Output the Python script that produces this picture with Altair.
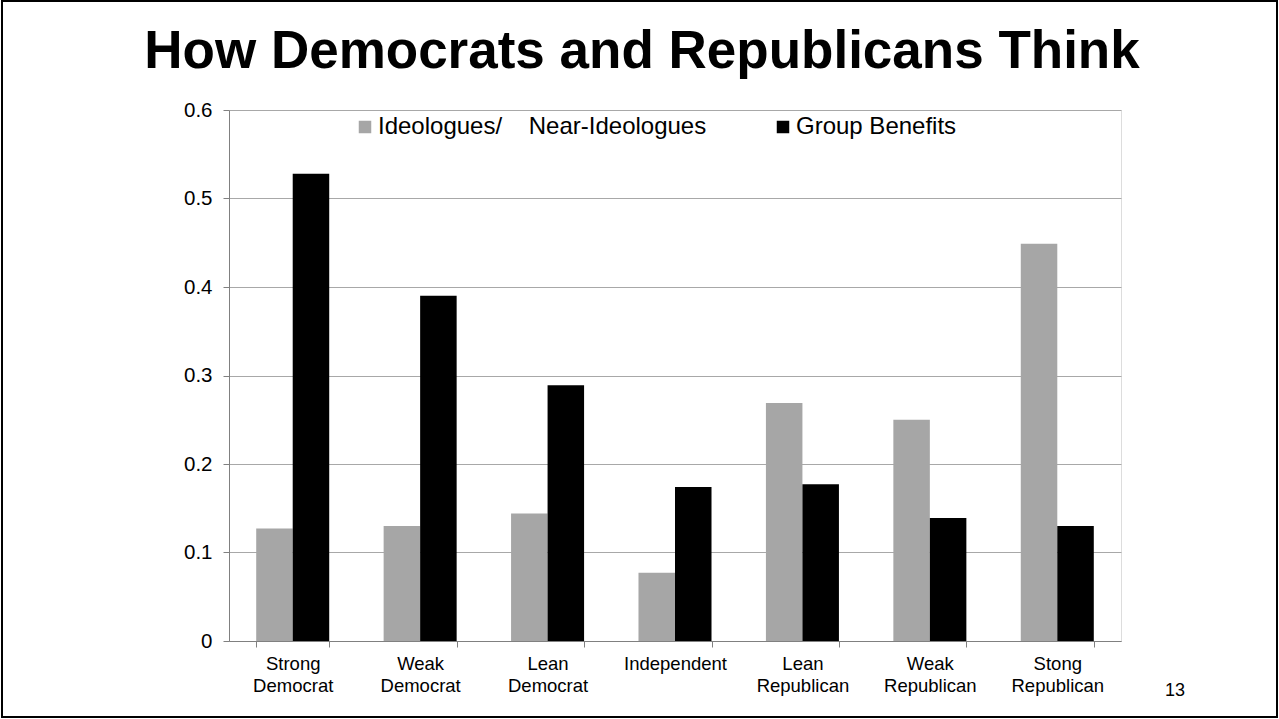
import altair as alt
import pandas as pd

categories = ["Strong Democrat", "Weak Democrat", "Lean Democrat", "Independent",
              "Lean Republican", "Weak Republican", "Stong Republican"]
ideologues = [0.127, 0.130, 0.144, 0.077, 0.269, 0.250, 0.449]
group_benefits = [0.528, 0.390, 0.289, 0.174, 0.177, 0.139, 0.130]
series_names = ["Ideologues/\u00a0\u00a0\u00a0\u00a0Near-Ideologues", "Group Benefits"]
series_colors = ["#A6A6A6", "#000000"]
y_ticks = [0, 0.1, 0.2, 0.3, 0.4, 0.5, 0.6]
title_text = "How Democrats and Republicans Think"
page_number = "13"

rows = []
for c, a, b in zip(categories, ideologues, group_benefits):
    rows.append({"category": c, "series": series_names[0], "value": a})
    rows.append({"category": c, "series": series_names[1], "value": b})
df = pd.DataFrame(rows)

FONT = "Liberation Sans"
AX = "#808080"
GRID = "#A8A8A8"

bars = alt.Chart(df).mark_bar().encode(
    x=alt.X("category:N", sort=categories,
            scale=alt.Scale(paddingInner=0.427, paddingOuter=0.2135),
            axis=alt.Axis(title=None, labelAngle=0, tickBand="extent",
                          labelExpr="split(datum.label, ' ')",
                          labelFontSize=18.5, labelLineHeight=22, labelColor="black",
                          labelFont=FONT, domainColor=AX, tickColor=AX, tickSize=6,
                          labelPadding=7, grid=False)),
    xOffset=alt.XOffset("series:N", sort=series_names,
                        scale=alt.Scale(domain=series_names, paddingInner=0, paddingOuter=0)),
    y=alt.Y("value:Q", scale=alt.Scale(domain=[0, 0.6], nice=False, zero=True),
            axis=alt.Axis(title=None, values=y_ticks, format=".1~f",
                          labelFontSize=20.5, labelColor="black", labelFont=FONT,
                          domainColor=AX, tickColor=AX, tickSize=6, labelPadding=11,
                          grid=True, gridColor=GRID, gridWidth=1)),
    color=alt.Color("series:N",
                    scale=alt.Scale(domain=series_names, range=series_colors),
                    legend=alt.Legend(title=None, orient="none", direction="horizontal",
                                      legendX=124, legendY=5, symbolType="square",
                                      symbolSize=156, symbolStrokeWidth=0,
                                      labelFontSize=24, labelFont=FONT, labelColor="black",
                                      labelOffset=1, columnPadding=64, padding=0,
                                      labelLimit=0)),
)

one = pd.DataFrame({"k": [0]})
frame = alt.Chart(one).mark_rect(fill=None, stroke="black", strokeWidth=2).encode(
    x=alt.value(-227), x2=alt.value(1048), y=alt.value(-109), y2=alt.value(607)
)
title = alt.Chart(one).mark_text(text=title_text, fontSize=53, fontWeight="bold", font=FONT,
                                 color="black", align="center", baseline="alphabetic").encode(
    x=alt.value(413), y=alt.value(-42)
)
page = alt.Chart(one).mark_text(text=page_number, fontSize=18, font=FONT, color="black",
                                align="center", baseline="alphabetic").encode(
    x=alt.value(946), y=alt.value(586)
)

chart = alt.layer(bars, frame, title, page).properties(
    width=892, height=531,
    padding={"left": 229, "top": 110, "right": 158, "bottom": 78},
    autosize=alt.AutoSizeParams(type="none"),
).configure_view(stroke=None).configure(background="white")

chart.save("out.html", embed_options={"renderer": "svg", "actions": False})
